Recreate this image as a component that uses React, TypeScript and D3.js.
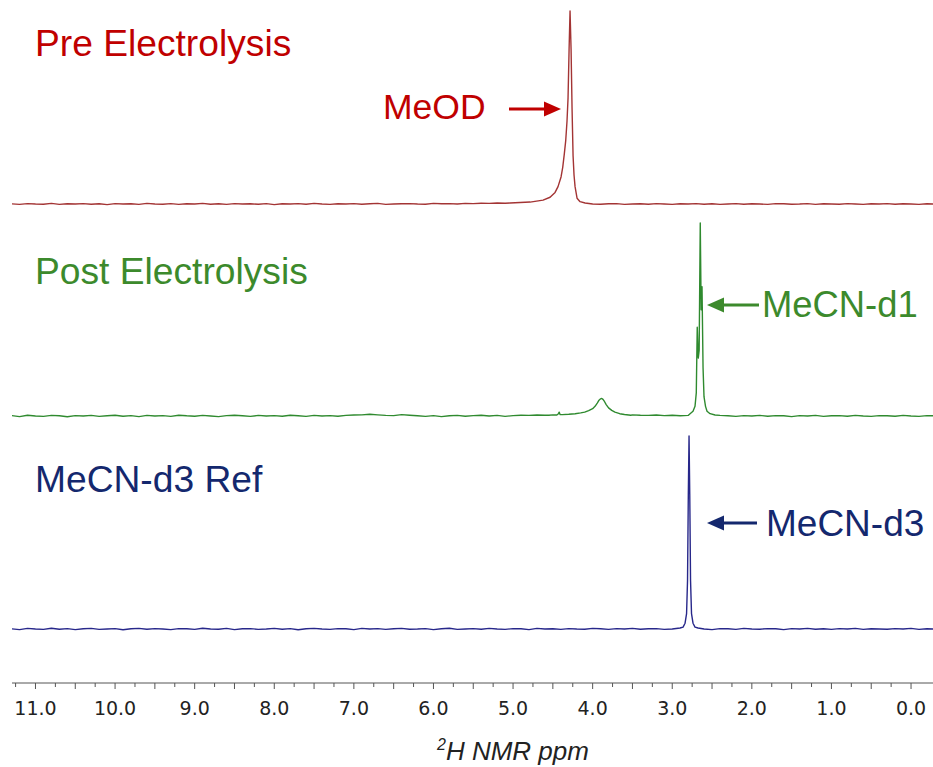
import React from "react";
import * as d3 from "d3";

// ---------- data ----------
// Baseline intensities (arbitrary units, 100 = tallest line) sampled every 0.1 ppm from 11.3 down to -0.3
const BASE_START = 11.3;
const BASE_STEP = 0.1;

const preBaseline = [
  0.1, -0.2, 0.2, 0.0, -0.1, 0.3, -0.2, 0.1, 0.0, 0.2,
  -0.1, 0.1, -0.3, 0.2, 0.0, 0.1, -0.2, 0.3, 0.0, -0.1,
  0.2, -0.2, 0.1, 0.0, 0.3, -0.1, 0.1, -0.2, 0.2, 0.0,
  0.1, -0.1, 0.2, -0.3, 0.1, 0.0, 0.2, -0.1, 0.3, 0.0,
  -0.2, 0.1, 0.0, 0.2, -0.1, 0.1, 0.3, -0.2, 0.0, 0.1,
  0.2, 0.0, -0.1, 0.3, 0.1, 0.2, 0.0, 0.3, 0.2, 0.4,
  0.3, 0.5, 0.4, 0.3, 0.5, 0.2, 0.3, 0.1, 0.2, 0.0,
  0.1, -0.2, 0.2, 0.0, -0.1, 0.1, 0.2, -0.2, 0.0, 0.1,
  -0.1, 0.2, 0.0, -0.2, 0.1, 0.0, 0.2, -0.1, 0.1, -0.2,
  0.0, 0.2, -0.1, 0.1, 0.0, -0.2, 0.2, 0.1, -0.1, 0.0,
  0.2, -0.2, 0.1, 0.0, -0.1, 0.2, 0.0, -0.2, 0.1, 0.0,
  0.2, -0.1, 0.1, 0.0, -0.2, 0.1, 0.0,
];

const postBaseline = [
  0.2, -0.3, 0.4, 0.0, -0.2, 0.3, 0.1, -0.4, 0.2, 0.0,
  0.3, -0.2, 0.1, 0.4, -0.1, 0.2, -0.3, 0.3, 0.0, 0.2,
  -0.2, 0.4, 0.1, -0.1, 0.3, 0.0, -0.3, 0.2, 0.4, 0.1,
  -0.2, 0.3, 0.0, 0.2, -0.1, 0.4, 0.1, -0.2, 0.3, 0.0,
  0.2, -0.1, 0.3, 0.5, 0.6, 0.9, 0.6, 0.3, 0.2, 0.7,
  0.4, 0.1, -0.2, 0.2, -0.3, 0.1, 0.3, -0.1, 0.2, 0.4,
  0.0, 0.3, -0.2, 0.2, 0.4, 0.3, 0.5, 0.4, 0.6, 0.5,
  0.8, 0.7, 0.9, 1.0, 1.1, 1.4, 1.2, 0.9, 0.6, 0.4,
  0.3, 0.5, 0.2, 0.4, 0.1, 0.3, 0.0, 0.2, -0.1, 0.3,
  0.1, -0.2, 0.2, 0.0, 0.3, -0.1, 0.2, 0.1, -0.3, 0.2,
  0.0, 0.3, -0.2, 0.1, 0.2, -0.1, 0.3, 0.0, -0.2, 0.2,
  0.1, -0.1, 0.3, 0.0, -0.2, 0.2, 0.1,
];

const refBaseline = [
  0.1, -0.3, 0.3, 0.0, -0.2, 0.4, -0.1, 0.2, -0.3, 0.1,
  0.3, -0.2, 0.0, 0.2, -0.4, 0.1, 0.3, -0.1, 0.2, 0.0,
  -0.3, 0.2, 0.1, -0.2, 0.4, 0.0, -0.1, 0.3, -0.3, 0.1,
  0.2, -0.2, 0.0, 0.3, -0.1, 0.2, -0.4, 0.1, 0.3, 0.0,
  -0.2, 0.2, 0.1, -0.3, 0.3, 0.0, 0.2, -0.2, 0.1, 0.3,
  -0.1, 0.0, 0.2, -0.3, 0.1, 0.4, -0.2, 0.0, 0.2, -0.1,
  0.3, 0.0, -0.2, 0.2, 0.1, -0.3, 0.3, 0.0, 0.1, -0.2,
  0.2, 0.0, -0.1, 0.3, 0.1, -0.2, 0.2, 0.0, 0.3, -0.1,
  0.1, 0.2, -0.2, 0.0, 0.3, -0.1, 0.2, 0.0, -0.3, 0.2,
  0.1, -0.2, 0.3, 0.0, -0.1, 0.2, 0.1, -0.3, 0.2, 0.0,
  0.3, -0.1, 0.1, -0.2, 0.2, 0.0, 0.3, -0.2, 0.1, 0.0,
  -0.1, 0.2, 0.0, 0.3, -0.2, 0.1, 0.0,
];

// Peak regions: [ppm, intensity]
const meodPeak: [number, number][] = [
  [5.038, 0.5], [4.786, 1.0], [4.623, 2.0], [4.535, 3.5], [4.472, 6],
  [4.435, 9], [4.397, 14], [4.376, 19], [4.356, 26], [4.338, 33],
  [4.322, 43], [4.309, 55], [4.296, 80], [4.284, 100], [4.271, 80],
  [4.259, 50], [4.246, 25], [4.234, 15], [4.221, 9], [4.196, 3],
  [4.158, 1.2], [4.095, 0.5],
];

const postBroadPeak: [number, number][] = [
  [4.55, 0.4], [4.5, 0.6], [4.45, 0.5], [4.43, 1.2], [4.42, 2.0], [4.41, 0.8],
  [4.38, 0.7], [4.3, 0.9], [4.22, 1.2], [4.15, 1.6], [4.1, 2.0], [4.05, 2.8],
  [4.0, 3.8], [3.97, 5.0], [3.94, 6.8], [3.92, 8.2], [3.9, 8.9], [3.885, 9.1],
  [3.87, 8.6], [3.85, 7.4], [3.83, 5.9], [3.8, 4.2], [3.76, 2.9], [3.72, 2.0],
  [3.66, 1.2], [3.6, 0.8], [3.52, 0.4],
];

const mecnD1Peak: [number, number][] = [
  [2.776, 1.2], [2.739, 2.5], [2.714, 5], [2.698, 12], [2.686, 46],
  [2.673, 30], [2.662, 34], [2.648, 100], [2.637, 55], [2.626, 67],
  [2.613, 25], [2.601, 10], [2.582, 5], [2.563, 2.5], [2.525, 1.2],
  [2.462, 0.5],
];

const mecnD3Peak: [number, number][] = [
  [2.902, 0.5], [2.864, 1], [2.839, 3], [2.82, 8], [2.808, 25],
  [2.798, 70], [2.789, 100], [2.78, 70], [2.77, 25], [2.758, 8],
  [2.739, 3], [2.714, 1], [2.676, 0.5],
];

const tickLabels = ["11.0", "10.0", "9.0", "8.0", "7.0", "6.0", "5.0", "4.0", "3.0", "2.0", "1.0", "0.0"];
const tickLabelValues = [11, 10, 9, 8, 7, 6, 5, 4, 3, 2, 1, 0];
const minorTickStep = 0.25;

// ---------- helpers ----------
function mergeSpectrum(base: number[], groups: [number, number][][]): [number, number][] {
  let pts: [number, number][] = base.map((v, i) => [+(BASE_START - BASE_STEP * i).toFixed(3), v]);
  for (const g of groups) {
    const lo = d3.min(g, (p) => p[0]) as number;
    const hi = d3.max(g, (p) => p[0]) as number;
    pts = pts.filter(([p]) => p < lo || p > hi);
  }
  for (const g of groups) pts = pts.concat(g);
  return pts.sort((a, b) => b[0] - a[0]);
}

const W = 933;
const H = 767;
const FONT = "'Liberation Sans', Arial, Helvetica, sans-serif";

function Arrow({ x1, x2, y, color }: { x1: number; x2: number; y: number; color: string }) {
  // x1 = tail, x2 = tip
  const dir = x2 > x1 ? 1 : -1;
  const headLen = 17;
  const halfW = 7.5;
  const base = x2 - dir * headLen;
  return (
    <g>
      <line x1={x1} x2={base + dir * 2} y1={y} y2={y} stroke={color} strokeWidth={3} />
      <path d={`M${x2},${y} L${base},${y - halfW} L${base},${y + halfW} Z`} fill={color} />
    </g>
  );
}

export default function App() {
  const x = d3.scaleLinear().domain([11.295, -0.276]).range([12, 933]);

  const traces = [
    { data: mergeSpectrum(preBaseline, [meodPeak]), y0: 204, color: "#a33434" },
    { data: mergeSpectrum(postBaseline, [postBroadPeak, mecnD1Peak]), y0: 416, color: "#2f8a2f" },
    { data: mergeSpectrum(refBaseline, [mecnD3Peak]), y0: 629, color: "#27278a" },
  ];

  const minorTicks = d3.range(0, 11.26, minorTickStep);
  const axisY = 683;

  return (
    <svg
      width={W}
      height={H}
      style={{ position: "absolute", left: 0, top: 0, background: "#fff" }}
      xmlns="http://www.w3.org/2000/svg"
    >
      <defs>
        <clipPath id="plotclip">
          <rect x={12} y={0} width={W - 12} height={H} />
        </clipPath>
      </defs>
      <rect x={0} y={0} width={W} height={H} fill="#fff" />

      <g clipPath="url(#plotclip)">
        {traces.map((t, i) => {
          const y = d3.scaleLinear().domain([0, 100]).range([t.y0, t.y0 - 193]);
          const line = d3
            .line<[number, number]>()
            .x((d) => x(d[0]))
            .y((d) => y(d[1]))
            .curve(d3.curveLinear);
          return (
            <path
              key={i}
              d={line(t.data) || ""}
              fill="none"
              stroke={t.color}
              strokeWidth={1.4}
              strokeLinejoin="round"
            />
          );
        })}
      </g>

      {/* labels */}
      <text x={35} y={56} fontFamily={FONT} fontSize={37.2} fill="#c00000">Pre Electrolysis</text>
      <text x={383} y={119} fontFamily={FONT} fontSize={35.5} fill="#c00000">MeOD</text>
      <Arrow x1={509} x2={561} y={109} color="#c00000" />

      <text x={35} y={284} fontFamily={FONT} fontSize={37.2} fill="#3c8a2c">Post Electrolysis</text>
      <text x={762} y={317} fontFamily={FONT} fontSize={36.4} fill="#3c8a2c">MeCN-d1</text>
      <Arrow x1={759} x2={707} y={305} color="#3c8a2c" />

      <text x={35} y={492} fontFamily={FONT} fontSize={37.2} fill="#14286e">MeCN-d3 Ref</text>
      <text x={766} y={536} fontFamily={FONT} fontSize={37} fill="#14286e">MeCN-d3</text>
      <Arrow x1={757} x2={707} y={523} color="#14286e" />

      {/* axis */}
      <line x1={12} x2={933} y1={axisY} y2={axisY} stroke="#555" strokeWidth={1} />
      {minorTicks.map((v) => {
        const major = Math.abs(v * 2 - Math.round(v * 2)) < 1e-6;
        return (
          <line
            key={v}
            x1={x(v)}
            x2={x(v)}
            y1={axisY}
            y2={axisY + (major ? 6 : 4)}
            stroke="#555"
            strokeWidth={1}
          />
        );
      })}
      {tickLabelValues.map((v, i) => (
        <text
          key={v}
          x={x(v)}
          y={715}
          textAnchor="middle"
          fontFamily="'DejaVu Sans', Verdana, sans-serif"
          fontSize={19}
          fill="#222"
        >
          {tickLabels[i]}
        </text>
      ))}
      <text x={513} y={760} textAnchor="middle" fontFamily={FONT} fontSize={26} fontStyle="italic" fill="#222">
        <tspan fontSize={16} dy={-10}>2</tspan>
        <tspan dy={10}>H NMR ppm</tspan>
      </text>
    </svg>
  );
}
